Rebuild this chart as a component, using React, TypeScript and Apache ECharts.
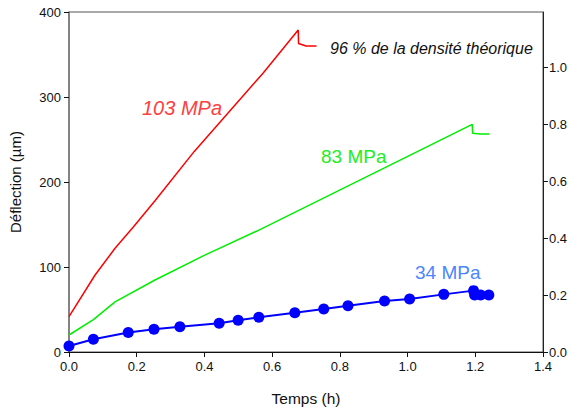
import React, { useEffect, useRef } from "react";
import * as echarts from "echarts";

const redX = [0, 0.077, 0.136, 0.19, 0.254, 0.37, 0.573, 0.677, 0.678, 0.70, 0.731];
const redY = [41.5, 90.6, 122, 147, 178, 236, 328, 378.8, 363, 360, 360];

const greenX = [0, 0.072, 0.136, 0.254, 0.401, 0.564, 1.191, 1.192, 1.215, 1.242];
const greenY = [20, 38, 59, 84.7, 114, 144, 267.8, 257.3, 256.5, 256.5];

const blueX = [0, 0.072, 0.175, 0.251, 0.3275, 0.4435, 0.4996, 0.5606, 0.667, 0.7524, 0.824, 0.932, 1.006, 1.107, 1.195, 1.198, 1.216, 1.24];
const blueY = [7, 15, 23, 26.7, 29.8, 33.7, 37.3, 40.8, 46.3, 50.6, 54.5, 60, 62.4, 67.8, 72.2, 67, 67, 67];

const rightTicks = [0, 0.2, 0.4, 0.6, 0.8, 1.0];

const labels = {
  red: "103 MPa",
  green: "83 MPa",
  blue: "34 MPa",
  note: "96 % de la densité théorique",
  xName: "Temps (h)",
  yName: "Déflection (µm)",
};

const zip = (xs: number[], ys: number[]) => xs.map((x, i) => [x, ys[i]]);

export default function App() {
  const ref = useRef<HTMLDivElement>(null);
  useEffect(() => {
    if (!ref.current) return;
    const chart = echarts.init(ref.current, undefined, { renderer: "svg" });
    const font = "Liberation Sans, Arial, sans-serif";
    chart.setOption({
      animation: false,
      backgroundColor: "#ffffff",
      textStyle: { fontFamily: font },
      grid: { left: 69, right: 31, top: 12, bottom: 59, show: true, borderColor: "#555", borderWidth: 1 },
      xAxis: {
        type: "value",
        min: 0,
        max: 1.4,
        interval: 0.2,
        name: labels.xName,
        nameLocation: "middle",
        nameGap: 38,
        nameTextStyle: { fontSize: 15.5, color: "#111", fontFamily: font },
        axisLine: { show: true, onZero: false, lineStyle: { color: "#111", width: 1 } },
        axisTick: { show: true, inside: false, length: 5, lineStyle: { color: "#111" } },
        axisLabel: { fontSize: 13, color: "#111", margin: 8, formatter: (v: number) => v.toFixed(1) },
        splitLine: { show: false },
      },
      yAxis: [
        {
          type: "value",
          min: 0,
          max: 400,
          interval: 100,
          name: labels.yName,
          nameLocation: "middle",
          nameGap: 46,
          nameTextStyle: { fontSize: 15, color: "#111", fontFamily: font },
          axisLine: { show: true, onZero: false, lineStyle: { color: "#777", width: 1.5 } },
          axisTick: { show: true, inside: false, length: 5, lineStyle: { color: "#111" } },
          axisLabel: { fontSize: 13, color: "#111", margin: 8 },
          splitLine: { show: false },
        },
        {
          type: "value",
          position: "right",
          min: 0,
          max: 1.193,
          axisLine: { show: true, onZero: false, lineStyle: { color: "#222", width: 1 } },
          axisTick: { show: true, inside: false, length: 5, customValues: rightTicks, lineStyle: { color: "#111" } },
          axisLabel: { fontSize: 13, color: "#111", margin: 6, customValues: rightTicks, formatter: (v: number) => v.toFixed(1) },
          splitLine: { show: false },
        },
      ],
      series: [
        {
          type: "line",
          data: zip(redX, redY),
          showSymbol: false,
          symbol: "none",
          lineStyle: { color: "#ff0000", width: 1.5 },
          z: 3,
        },
        {
          type: "line",
          data: zip(greenX, greenY),
          showSymbol: false,
          symbol: "none",
          lineStyle: { color: "#00ee00", width: 1.5 },
          z: 3,
        },
        {
          type: "line",
          data: zip(blueX, blueY),
          symbol: "circle",
          symbolSize: 11,
          itemStyle: { color: "#0000ff" },
          lineStyle: { color: "#0000ff", width: 2 },
          z: 4,
        },
      ],
      graphic: [
        {
          type: "text",
          left: 142,
          top: 98,
          style: { text: labels.red, fill: "#ff4040", fontSize: 20, fontStyle: "italic", fontFamily: font },
        },
        {
          type: "text",
          left: 321,
          top: 147,
          style: { text: labels.green, fill: "#22ee22", fontSize: 19, fontFamily: font },
        },
        {
          type: "text",
          left: 415,
          top: 263,
          style: { text: labels.blue, fill: "#4a86ff", fontSize: 19, fontFamily: font },
        },
        {
          type: "text",
          left: 330,
          top: 40,
          style: { text: labels.note, fill: "#111", fontSize: 16, fontStyle: "italic", fontFamily: font },
        },
      ],
    });
    return () => chart.dispose();
  }, []);
  return <div ref={ref} style={{ width: 574, height: 411, position: "fixed", left: 0, top: 0 }} />;
}
